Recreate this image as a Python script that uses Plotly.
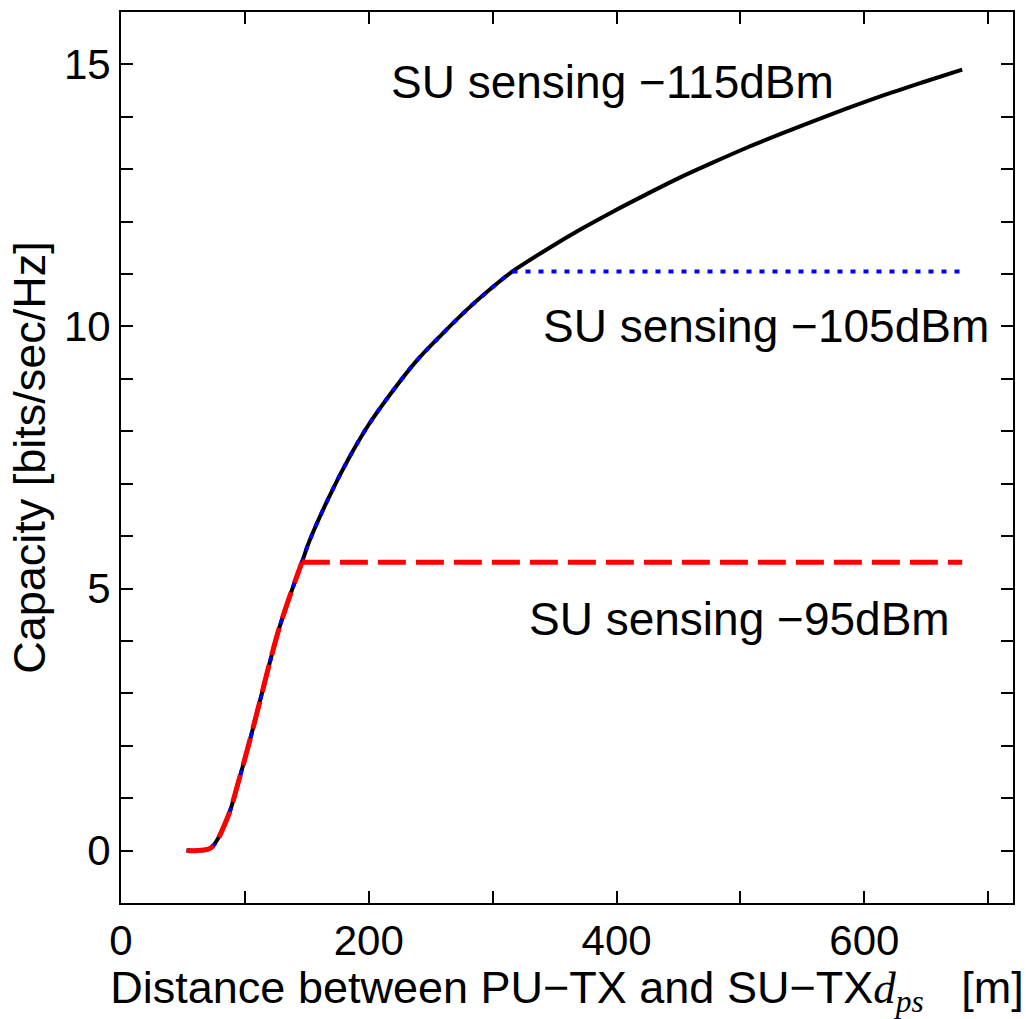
import plotly.graph_objects as go

# Distances [m] and capacities [bits/sec/Hz]
dist_115 = [53, 62, 73, 86, 95, 103.5, 111.6, 119, 127, 134, 146, 152, 168, 184, 200, 219, 238, 259, 281, 304, 316,
            343, 370, 397, 424, 451, 478, 505, 532, 559, 586, 613, 646, 679]
cap_115 = [0, 0, 0.06, 0.63, 1.33, 2.06, 2.8, 3.49, 4.19, 4.7, 5.5, 5.9, 6.75, 7.49, 8.13, 8.76, 9.33, 9.85, 10.36, 10.83, 11.05,
           11.46, 11.84, 12.19, 12.52, 12.84, 13.13, 13.41, 13.67, 13.92, 14.16, 14.39, 14.65, 14.9]

dist_105 = [53, 62, 73, 86, 95, 103.5, 111.6, 119, 127, 134, 146, 152, 168, 184, 200, 219, 238, 259, 281, 304, 316, 679]
cap_105 = [0, 0, 0.06, 0.63, 1.33, 2.06, 2.8, 3.49, 4.19, 4.7, 5.5, 5.9, 6.75, 7.49, 8.13, 8.76, 9.33, 9.85, 10.36, 10.83, 11.05, 11.05]

dist_95 = [53, 62, 73, 86, 95, 103.5, 111.6, 119, 127, 134, 146, 679]
cap_95 = [0, 0, 0.06, 0.63, 1.33, 2.06, 2.8, 3.49, 4.19, 4.7, 5.5, 5.5]

labels = ["SU sensing \u2212115dBm", "SU sensing \u2212105dBm", "SU sensing \u221295dBm"]
label_x = [397, 521, 499]
label_y = [14.67, 10.0, 4.42]

FONT = "Liberation Sans, Arial, sans-serif"

fig = go.Figure()
fig.add_trace(go.Scatter(x=dist_115, y=cap_115, mode="lines",
                         line=dict(color="black", width=4, shape="spline", smoothing=1.0, simplify=False),
                         showlegend=False))

# capped curves: rising part drawn smooth, flat cap drawn straight
blue = dict(color="#0000ff", width=4, dash="5px,8px", simplify=False)
red = dict(color="#ff0000", width=5, dash="28px,10px", simplify=False)
fig.add_trace(go.Scatter(x=dist_105[:-1], y=cap_105[:-1], mode="lines",
                         line=dict(**blue, shape="spline", smoothing=1.0), showlegend=False))
fig.add_trace(go.Scatter(x=dist_105[-2:], y=cap_105[-2:], mode="lines",
                         line=dict(**blue, shape="linear"), showlegend=False))
fig.add_trace(go.Scatter(x=dist_95[:-1], y=cap_95[:-1], mode="lines",
                         line=dict(**red, shape="spline", smoothing=1.0), showlegend=False))
fig.add_trace(go.Scatter(x=dist_95[-2:], y=cap_95[-2:], mode="lines",
                         line=dict(**red, shape="linear"), showlegend=False))

for t, x, y in zip(labels, label_x, label_y):
    fig.add_annotation(x=x, y=y, text=t, showarrow=False, xanchor="center", yanchor="middle",
                       font=dict(family=FONT, size=46, color="black"))

axis_common = dict(showline=True, linecolor="black", linewidth=2, mirror="ticks",
                   ticks="inside", ticklen=12, tickwidth=2, tickcolor="black",
                   showgrid=False, zeroline=False,
                   tickfont=dict(family=FONT, size=42, color="black"))

xtitle = ("Distance between PU\u2212TX and SU\u2212TX"
          "<span style='font-family:Liberation Serif'><i>d<sub>ps</sub></i></span>"
          "   [m]")

fig.update_xaxes(range=[0, 720], tick0=0, dtick=200,
                 minor=dict(dtick=100, ticks="inside", ticklen=12, tickwidth=2, tickcolor="black", showgrid=False),
                 title=dict(text=xtitle, font=dict(family=FONT, size=45, color="black"), standoff=6),
                 **axis_common)
fig.update_yaxes(range=[-1, 16], tick0=0, dtick=5,
                 minor=dict(dtick=1, ticks="inside", ticklen=12, tickwidth=2, tickcolor="black", showgrid=False),
                 title=dict(text="Capacity [bits/sec/Hz]", font=dict(family=FONT, size=45, color="black"), standoff=4),
                 **axis_common)

fig.update_layout(width=1026, height=1019, margin=dict(l=121, r=13, t=10, b=116),
                  plot_bgcolor="white", paper_bgcolor="white")

fig.write_html("out.html")
